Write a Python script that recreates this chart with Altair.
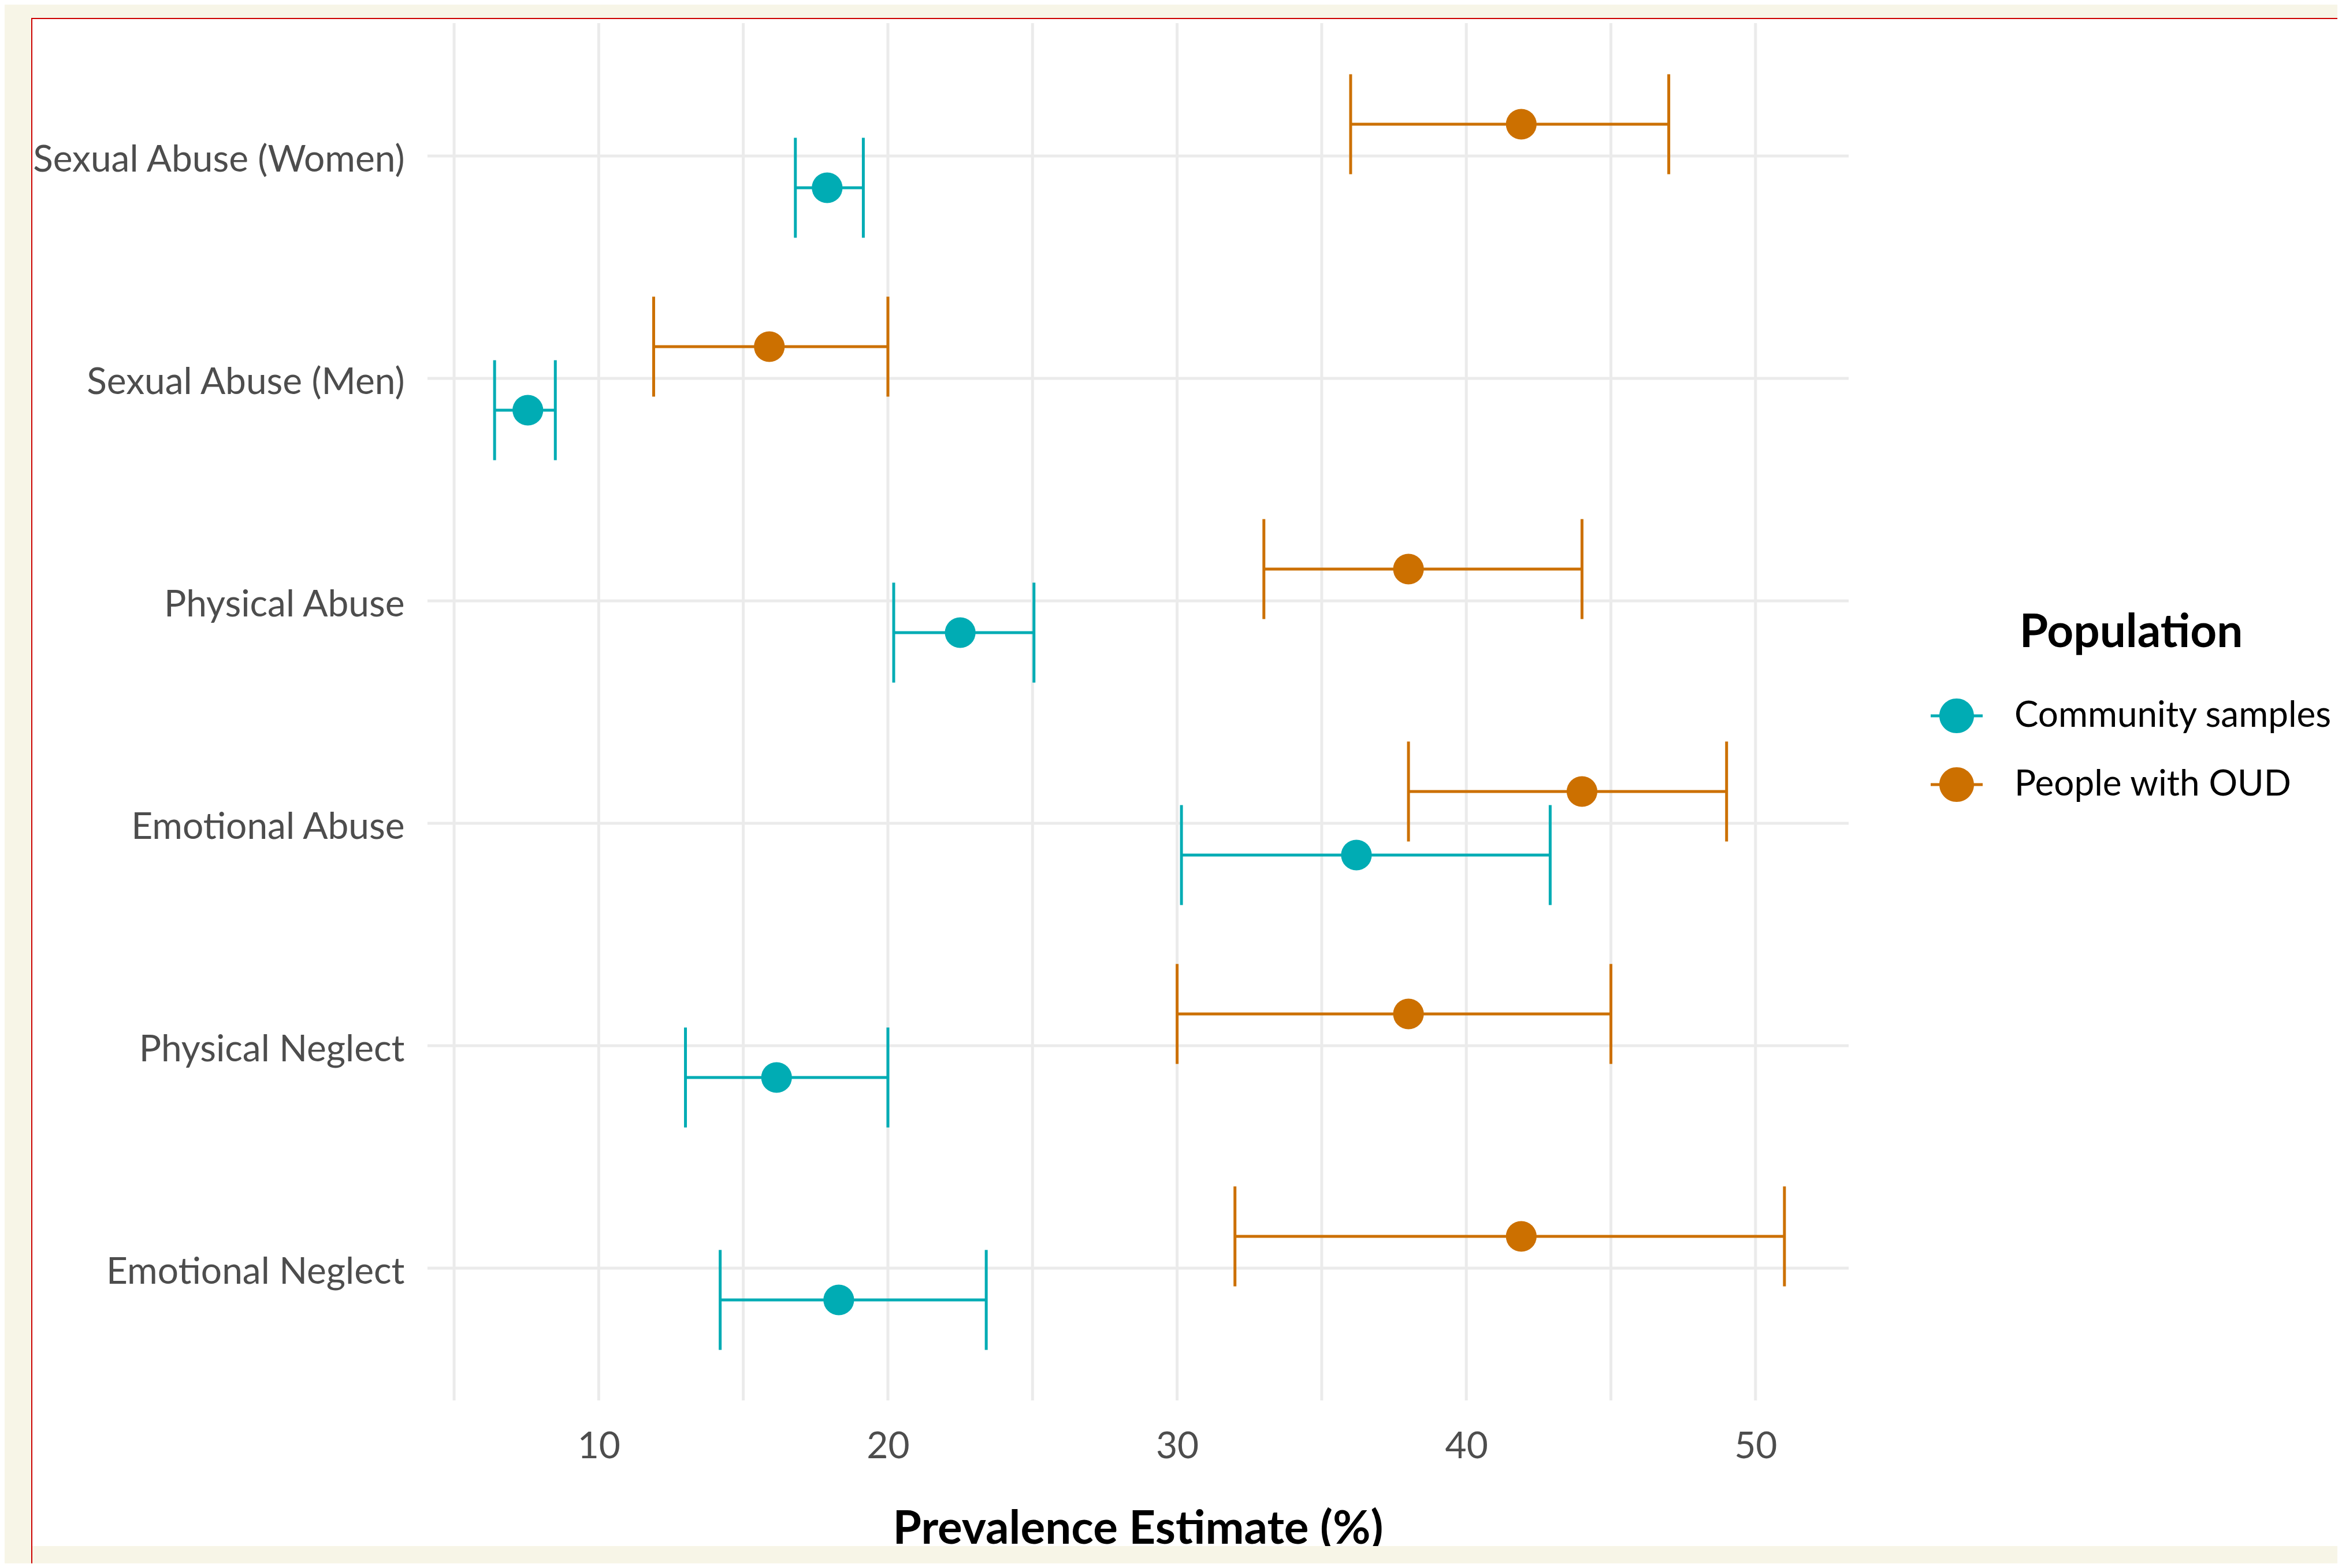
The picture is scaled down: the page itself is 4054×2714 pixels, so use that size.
import altair as alt
import pandas as pd

# ---- data ----
categories = [
    "Sexual Abuse (Women)",
    "Sexual Abuse (Men)",
    "Physical Abuse",
    "Emotional Abuse",
    "Physical Neglect",
    "Emotional Neglect",
]
populations = ["Community samples", "People with OUD"]

community_est = [17.9, 7.55, 22.5, 36.2, 16.15, 18.3]
community_low = [16.8, 6.4, 20.2, 30.15, 13.0, 14.2]
community_high = [19.15, 8.5, 25.05, 42.9, 20.0, 23.4]

oud_est = [41.9, 15.9, 38.0, 44.0, 38.0, 41.9]
oud_low = [36.0, 11.9, 33.0, 38.0, 30.0, 32.0]
oud_high = [47.0, 20.0, 44.0, 49.0, 45.0, 51.0]

x_tick_values = [5, 10, 15, 20, 25, 30, 35, 40, 45, 50]

rows = []
for i, c in enumerate(categories):
    rows.append({"category": c, "population": populations[0],
                 "est": community_est[i], "low": community_low[i], "high": community_high[i]})
    rows.append({"category": c, "population": populations[1],
                 "est": oud_est[i], "low": oud_low[i], "high": oud_high[i]})
df = pd.DataFrame(rows)

# ---- styling ----
FONT = "Lato"
TEAL = "#00ACB4"
ORANGE = "#CC7000"
GRID = "#EBEBEB"
TEXT = "#4D4D4D"
BEIGE = "#F7F5E7"
RED = "#CC0000"

PLOT_W, PLOT_H = 2463, 2387
PAD = {"left": 730, "top": 31, "right": 845, "bottom": 280}

x_scale = alt.Scale(domain=[4.04, 53.24], nice=False, zero=False)
x_axis = alt.Axis(
    values=x_tick_values,
    labelExpr="datum.value % 10 === 0 ? datum.label : ''",
    grid=False, ticks=False, tickSize=0, domain=False,
    labelFont=FONT, labelFontSize=64, labelColor=TEXT,
    labelBaseline="alphabetic", labelPadding=97,
    labelFlush=False, labelOverlap=False,
    title="Prevalence Estimate (%)",
    titleFont=FONT, titleFontSize=80, titleFontWeight="bold", titleColor="black",
    titleBaseline="alphabetic", titleY=245, titleLimit=3000,
)
y_scale = alt.Scale(paddingInner=0, paddingOuter=0.1)
y_axis = alt.Axis(
    bandPosition=0.5, grid=False, ticks=False, tickSize=0, domain=False,
    labelFont=FONT, labelFontSize=64, labelColor=TEXT,
    labelBaseline="alphabetic", labelOffset=27, labelPadding=38,
    labelLimit=2000, labelAlign="right",
)
y_enc = alt.Y("category:N", sort=categories, title=None, scale=y_scale, axis=y_axis)
yoff = alt.YOffset(
    "population:N", sort=["People with OUD", "Community samples"],
    scale=alt.Scale(paddingInner=0, paddingOuter=0.75),
)
color_scale = alt.Scale(domain=populations, range=[TEAL, ORANGE])

SYMBOL = ("M-1,-0.056H1V0.056H-1Z "
          "M0.667,0A0.667,0.667 0 1,1 -0.667,0A0.667,0.667 0 1,1 0.667,0Z")
legend = alt.Legend(
    title="Population", orient="none", legendX=2604, legendY=1018, padding=0,
    titleFont=FONT, titleFontSize=80, titleFontWeight="bold", titleColor="black",
    titleAnchor="middle", titlePadding=57, titleLimit=3000,
    labelFont=FONT, labelFontSize=62, labelColor="black", labelOffset=55, labelLimit=3000,
    symbolType=SYMBOL, symbolSize=8100, symbolStrokeWidth=0, symbolOpacity=1,
    rowPadding=43,
)

# ---- gridlines (theme_minimal style), drawn from the tick values / categories ----
vgrid = alt.Chart(pd.DataFrame({"v": x_tick_values})).mark_rule(
    color=GRID, strokeWidth=5
).encode(x=alt.X("v:Q", scale=x_scale, axis=x_axis))
hgrid = alt.Chart(pd.DataFrame({"category": categories})).mark_rule(
    color=GRID, strokeWidth=5
).encode(y=alt.Y("category:N", sort=categories, title=None, scale=y_scale, axis=y_axis))

base = alt.Chart(df)

points = base.mark_circle(size=2830, opacity=1).encode(
    x=alt.X("est:Q", scale=x_scale, axis=x_axis),
    y=y_enc, yOffset=yoff,
    color=alt.Color("population:N", scale=color_scale, legend=legend),
)
bars = base.mark_rule(strokeWidth=5).encode(
    x=alt.X("low:Q", scale=x_scale, axis=x_axis),
    x2="high:Q",
    y=y_enc, yOffset=yoff,
    color=alt.Color("population:N", scale=color_scale, legend=None),
)
caps = base.transform_fold(["low", "high"], as_=["end", "xv"]).mark_tick(
    orient="vertical", size=173, thickness=5, opacity=1
).encode(
    x=alt.X("xv:Q", scale=x_scale, axis=x_axis),
    y=y_enc, yOffset=yoff,
    color=alt.Color("population:N", scale=color_scale, legend=None),
)

# ---- page frame (beige surround with a red edge, as in the screenshot) ----
deco = alt.Chart(alt.Data(values=[{"k": 0}]))
frame_left = deco.mark_rect(color=BEIGE).encode(
    x=alt.value(-740), x2=alt.value(-684), y=alt.value(-60), y2=alt.value(2800))
frame_top = deco.mark_rect(color=BEIGE).encode(
    x=alt.value(-740), x2=alt.value(3600), y=alt.value(-60), y2=alt.value(-8))
frame_bottom = deco.mark_rect(color=BEIGE).encode(
    x=alt.value(-740), x2=alt.value(3600), y=alt.value(2637), y2=alt.value(2800))
red_left = deco.mark_rect(color=RED).encode(
    x=alt.value(-684), x2=alt.value(-682), y=alt.value(-8), y2=alt.value(2800))
red_top = deco.mark_rect(color=RED).encode(
    x=alt.value(-684), x2=alt.value(3600), y=alt.value(-8), y2=alt.value(-6))
# white edges over the panel border (the reference panel has no frame)
edge_left = deco.mark_rect(color="white").encode(
    x=alt.value(-4), x2=alt.value(2), y=alt.value(-6), y2=alt.value(PLOT_H + 6))
edge_bottom = deco.mark_rect(color="white").encode(
    x=alt.value(-6), x2=alt.value(PLOT_W + 6), y=alt.value(PLOT_H - 2), y2=alt.value(PLOT_H + 4))
edge_top = deco.mark_rect(color="white").encode(
    x=alt.value(-6), x2=alt.value(PLOT_W + 6), y=alt.value(-4), y2=alt.value(1))
edge_right = deco.mark_rect(color="white").encode(
    x=alt.value(PLOT_W - 1), x2=alt.value(PLOT_W + 4), y=alt.value(-6), y2=alt.value(PLOT_H + 6))

chart = alt.layer(
    vgrid, hgrid, points, bars, caps,
    edge_left, edge_bottom, edge_top, edge_right,
    frame_left, frame_top, frame_bottom, red_left, red_top
).properties(
    width=PLOT_W, height=PLOT_H,
    padding=PAD,
    autosize=alt.AutoSizeParams(type="none"),
    background="white",
).configure_view(
    stroke=None, strokeWidth=0
).configure_axis(
    domain=False, grid=False
).configure(font=FONT)

chart.save("out.html", embed_options={"renderer": "svg", "actions": False})
